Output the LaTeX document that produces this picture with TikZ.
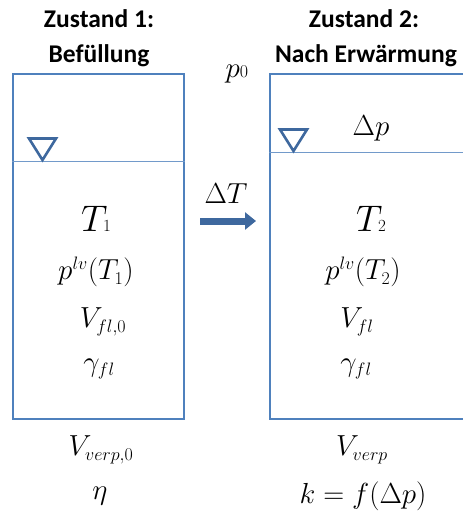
\RequirePackage{fix-cm}
\documentclass[tikz,border=0pt]{standalone}
\usepackage{fontspec}
\newfontfamily\titlefont{Carlito}
\DeclareMathSizes{29}{29}{18}{14}
\DeclareMathSizes{37}{37}{17}{14}
\usetikzlibrary{arrows.meta}
\definecolor{boxblue}{RGB}{79,129,189}
\definecolor{arrowblue}{RGB}{62,104,158}
\definecolor{triblue}{RGB}{62,104,158}
\begin{document}
\begin{tikzpicture}[x=1pt,y=-1pt,
  title/.style={font=\titlefont\bfseries\fontsize{25.5}{30}\selectfont, anchor=base, inner sep=0pt},
  tank/.style={draw=boxblue, line width=1.8pt, anchor=north west, inner sep=0pt},
  liq/.style={draw=boxblue!80, line width=0.9pt},
  tri/.style={draw=triblue, line width=2.6pt, line join=miter},
  big/.style={font=\fontsize{37}{40}\selectfont, inner sep=0pt},
  mid/.style={font=\fontsize{29}{32}\selectfont, inner sep=0pt},
  flow/.style={draw=arrowblue, line width=7pt, -{Triangle[length=11pt,width=17pt]}}
]
\useasboundingbox (0,0) rectangle (463,515);
\clip (0,0) rectangle (463,515);

% titles
\node[title] (t1a) at (99,27) {Zustand 1:};
\node[title] (t1b) at (99,62) {Befüllung};
\node[title] (t2a) at (364,27) {Zustand 2:};
\node[title] (t2b) at (366,62) {Nach Erwärmung};

% tanks
\node[tank, minimum width=171pt, minimum height=345pt] (box1) at (12,73) {};
\node[tank, minimum width=215pt, minimum height=345pt] (box2) at (269,73) {};

\coordinate (l1) at (12,161);
\coordinate (l2) at (269,152);
\draw[liq] (l1) -- (l1 -| box1.east);
\draw[liq] (l2) -- (l2 -| box2.east);

\draw[tri] (29,138.5) -- (56,138.5) -- (42.5,160) -- cycle;
\draw[tri] (280,129.5) -- (307,129.5) -- (293.5,151) -- cycle;

% ambient pressure
\node[mid] (p0) at (237,74) {$p{\scriptstyle 0}$};
\node[mid] (dp) at (371,128) {$\Delta p$};

% arrow
\node[mid] (dT) at (226,194) {$\Delta T$};
\coordinate (a1) at (200,221);
\coordinate (a2) at (256,221);
\draw[flow] (a1) -- (a2);

% left contents
\node[big] (T1) at (96,219) {$T\mkern-2mu{\scriptstyle 1}$};
\node[mid] (pl1) at (96,272) {$p^{lv}(T_1)$};
\node[mid] (V1) at (103,322) {$V_{fl,0}$};
\node[mid] (g1) at (99,369) {$\gamma_{fl}$};

% right contents
\node[big] (T2) at (371,219) {$T\mkern-2mu{\scriptstyle 2}$};
\node[mid] (pl2) at (363,272) {$p^{lv}(T_2)$};
\node[mid] (V2) at (357,322) {$V_{fl}$};
\node[mid] (g2) at (356,369) {$\gamma_{fl}$};

% below
\node[mid] (Vv1) at (101,450) {$V_{verp,0}$};
\node[mid] (eta) at (100,496) {$\eta$};
\node[mid] (Vv2) at (362,450) {$V_{verp}$};
\node[mid] (k) at (363,496) {$k=f(\Delta p)$};
\end{tikzpicture}
\end{document}
